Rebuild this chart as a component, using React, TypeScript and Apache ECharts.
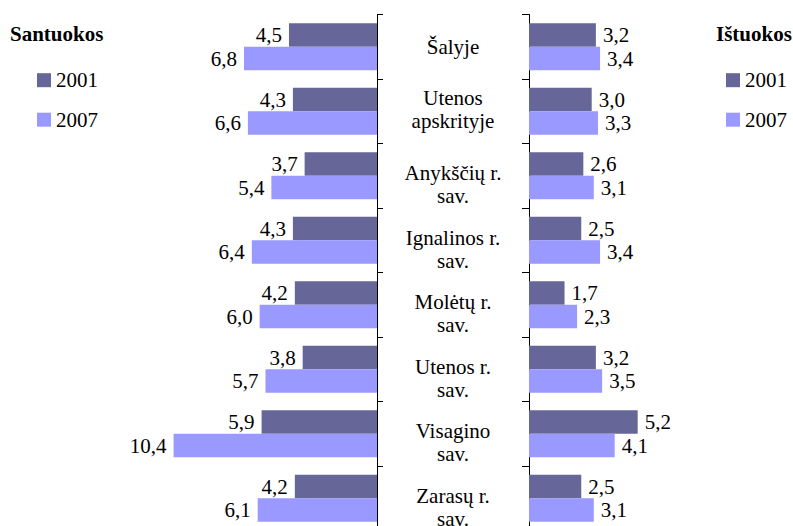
import React, { useEffect, useRef } from "react";
import * as echarts from "echarts";

const categories = [
  "Šalyje",
  "Utenos\napskrityje",
  "Anykščių r.\nsav.",
  "Ignalinos r.\nsav.",
  "Molėtų r.\nsav.",
  "Utenos r.\nsav.",
  "Visagino\nsav.",
  "Zarasų r.\nsav.",
];
const years = ["2001", "2007"];
const santuokos2001 = [4.5, 4.3, 3.7, 4.3, 4.2, 3.8, 5.9, 4.2];
const santuokos2007 = [6.8, 6.6, 5.4, 6.4, 6.0, 5.7, 10.4, 6.1];
const istuokos2001 = [3.2, 3.0, 2.6, 2.5, 1.7, 3.2, 5.2, 2.5];
const istuokos2007 = [3.4, 3.3, 3.1, 3.4, 2.3, 3.5, 4.1, 3.1];

const FONT = "Liberation Serif";
const C2001 = "#666699";
const C2007 = "#9999ff";

const fmt = (p: any) => Number(p.value).toFixed(1).replace(".", ",");

const catLabel = (value: string, index: number) => {
  const body = String(value).split("\n").map((l) => `{t|${l}}`).join("\n");
  if (index === 0) return body;
  if (index === 1) return body + "\n{up| }";
  return "{dn| }\n" + body;
};

export default function App() {
  const ref = useRef<HTMLDivElement>(null);
  useEffect(() => {
    if (!ref.current) return;
    const chart = echarts.init(ref.current, undefined, { renderer: "svg" });
    const labelBase = { show: true, fontSize: 21, fontFamily: FONT, color: "#000", formatter: fmt, distance: 7 };
    const barBase = { type: "bar" as const, barWidth: 23.5, barGap: "0%" };
    chart.setOption({
      animation: false,
      textStyle: { fontFamily: FONT },
      graphic: [
        { type: "text", x: 10, y: 34, style: { text: "Santuokos", fontSize: 21, fontWeight: "bold", fontFamily: FONT, fill: "#000", verticalAlign: "middle" } },
        { type: "text", x: 716, y: 34, style: { text: "Ištuokos", fontSize: 21, fontWeight: "bold", fontFamily: FONT, fill: "#000", verticalAlign: "middle" } },
      ],
      legend: [
        {
          data: years, orient: "vertical", left: 37, top: 69.7, icon: "rect", itemWidth: 14, itemHeight: 14, itemGap: 18.5,
          padding: 0, selectedMode: false,
          textStyle: { fontSize: 21, fontFamily: FONT, color: "#000", lineHeight: 20 },
        },
        {
          data: years, orient: "vertical", left: 726, top: 69.7, icon: "rect", itemWidth: 14, itemHeight: 14, itemGap: 18.5,
          padding: 0, selectedMode: false,
          textStyle: { fontSize: 21, fontFamily: FONT, color: "#000", lineHeight: 20 },
        },
      ],
      grid: [
        { left: 377 - 12 * 19.56, right: 793 - 377, top: 14.5, bottom: 1.5 },
        { left: 529, right: 793 - 529 - 12 * 20.9, top: 14.5, bottom: 1.5 },
      ],
      xAxis: [
        { gridIndex: 0, type: "value", min: 0, max: 12, inverse: true, show: false },
        { gridIndex: 1, type: "value", min: 0, max: 12, show: false },
      ],
      yAxis: [
        {
          gridIndex: 0, type: "category", data: categories, inverse: true, position: "right",
          axisLine: { show: true, lineStyle: { color: "#000", width: 1 } },
          axisTick: { show: true, length: 6, lineStyle: { color: "#000" } },
          axisLabel: {
            show: true, align: "center", margin: 76, fontSize: 21, fontFamily: FONT, color: "#000",
            formatter: catLabel,
            rich: {
              t: { fontSize: 21, fontFamily: FONT, color: "#000", lineHeight: 23, align: "center" },
              up: { fontSize: 1, lineHeight: 4 },
              dn: { fontSize: 1, lineHeight: 18 },
            },
          },
        },
        {
          gridIndex: 1, type: "category", data: categories, inverse: true, position: "left",
          axisLine: { show: true, lineStyle: { color: "#000", width: 1 } },
          axisTick: { show: true, length: 7, lineStyle: { color: "#000" } },
          axisLabel: { show: false },
        },
      ],
      series: [
        { ...barBase, name: "2001", xAxisIndex: 0, yAxisIndex: 0, data: santuokos2001, itemStyle: { color: C2001 }, label: { ...labelBase, position: "left" } },
        { ...barBase, name: "2007", xAxisIndex: 0, yAxisIndex: 0, data: santuokos2007, itemStyle: { color: C2007 }, label: { ...labelBase, position: "left" } },
        { ...barBase, name: "2001", xAxisIndex: 1, yAxisIndex: 1, data: istuokos2001, itemStyle: { color: C2001 }, label: { ...labelBase, position: "right" } },
        { ...barBase, name: "2007", xAxisIndex: 1, yAxisIndex: 1, data: istuokos2007, itemStyle: { color: C2007 }, label: { ...labelBase, position: "right" } },
      ],
    });
    return () => chart.dispose();
  }, []);
  return (
    <div style={{ position: "fixed", left: 0, top: 0, width: 793, height: 526, overflow: "hidden", background: "#fff" }}>
      <div ref={ref} style={{ width: 793, height: 532 }} />
    </div>
  );
}
